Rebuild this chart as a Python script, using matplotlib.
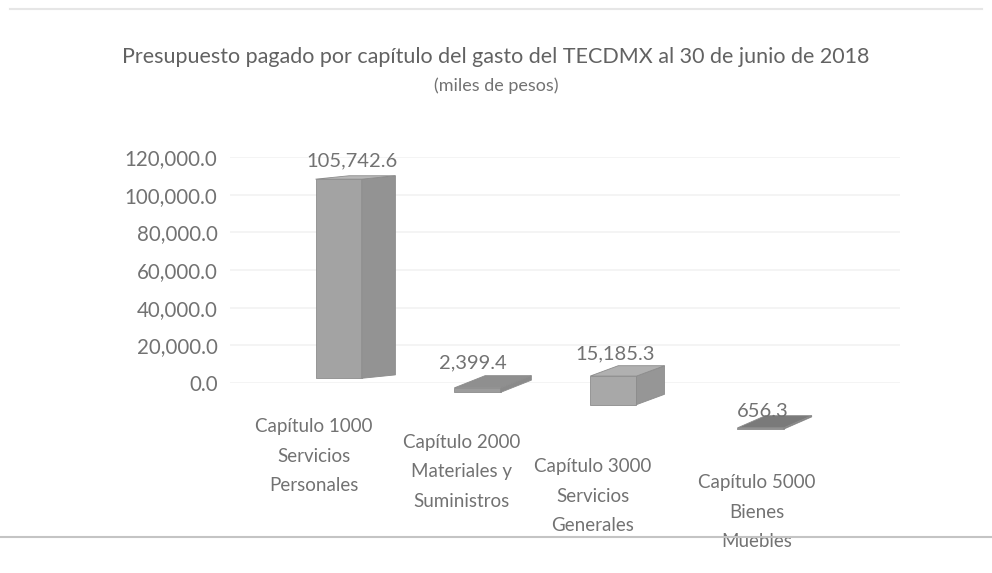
import matplotlib.pyplot as plt
from matplotlib.patches import Polygon
from matplotlib.lines import Line2D

plt.rcParams['font.family'] = ['Lato', 'DejaVu Sans']

categorias = ["Capítulo 1000\nServicios\nPersonales",
              "Capítulo 2000\nMateriales y\nSuministros",
              "Capítulo 3000\nServicios\nGenerales",
              "Capítulo 5000\nBienes\nMuebles"]
pagado = [105742.6, 2399.4, 15185.3, 656.3]
etiquetas = ["105,742.6", "2,399.4", "15,185.3", "656.3"]
yticks = [0, 20000, 40000, 60000, 80000, 100000, 120000]

# perspective look of the original 3D chart
base = [2500, -5000, -11500, -24500]
label_y = [-18600, -27000, -39800, -48300]
label_x = [-0.28, 0.77, 1.71, 2.88]
val_x = [-0.01, 0.85, 1.87, 2.92]
val_dy = [3500, 2500, 2000, -2500]
bar_x = [-0.27, 0.72, 1.69, 2.74]
depth_x = [0.24, 0.22, 0.2, 0.2]
depth_y = [1800, 6500, 5500, 6500]
caras = [("#a3a3a3", "#939393", "#b8b8b8"),
         ("#9c9c9c", "#8a8a8a", "#8f8f8f"),
         ("#a8a8a8", "#969696", "#b0b0b0"),
         ("#7c7c7c", "#707070", "#7a7a7a")]
w = 0.33
txt = "#727272"

fig = plt.figure(figsize=(9.92, 5.73), dpi=100)
ax = fig.add_axes([230/992, (573-383)/573, 670/992, (383-157)/573])
ax.set_xlim(-0.88, 3.9)
ax.set_ylim(0, 120000)
ax.set_yticks(yticks)
ax.set_yticklabels([f"{v:,.1f}" for v in yticks], fontsize=14.8, color=txt)
ax.tick_params(axis="y", length=0, pad=9)
ax.set_xticks([])
for s in ax.spines.values():
    s.set_visible(False)
for t in yticks:
    ax.axhline(t, color="#f2f2f2", lw=1.2, zorder=0)

for i, v in enumerate(pagado):
    x0 = bar_x[i]
    b = base[i]
    dx, dy = depth_x[i], depth_y[i]
    front, side, top = caras[i]
    ax.add_patch(Polygon([(x0, b), (x0 + w, b), (x0 + w, b + v), (x0, b + v)],
                         closed=True, fc=front, ec="#8c8c8c", lw=0.6, clip_on=False, zorder=3))
    ax.add_patch(Polygon([(x0 + w, b), (x0 + w + dx, b + dy), (x0 + w + dx, b + v + dy), (x0 + w, b + v)],
                         closed=True, fc=side, ec="#8c8c8c", lw=0.6, clip_on=False, zorder=3))
    ax.add_patch(Polygon([(x0, b + v), (x0 + w, b + v), (x0 + w + dx, b + v + dy), (x0 + dx, b + v + dy)],
                         closed=True, fc=top, ec="#8c8c8c", lw=0.6, clip_on=False, zorder=4))
    ax.text(val_x[i], b + v + dy + val_dy[i], etiquetas[i], ha="center", va="bottom",
            fontsize=14.5, color=txt, zorder=5)
    ax.text(label_x[i], label_y[i], categorias[i], ha="center", va="top",
            fontsize=13.5, color=txt, linespacing=1.9)

fig.text(0.5, 1 - 57/573, "Presupuesto pagado por capítulo del gasto del TECDMX al 30 de junio de 2018",
         ha="center", va="center", fontsize=15.5, color="#626262")
fig.text(0.5, 1 - 86/573, "(miles de pesos)", ha="center", va="center",
         fontsize=13, color=txt)

fig.add_artist(Line2D([0, 1], [1 - 537/573] * 2, color="#c4c4c4", lw=1.5))
fig.add_artist(Line2D([0.01, 0.99], [1 - 9/573] * 2, color="#e6e6e6", lw=1.5))

fig.savefig("out.png", dpi=100, facecolor="white")
